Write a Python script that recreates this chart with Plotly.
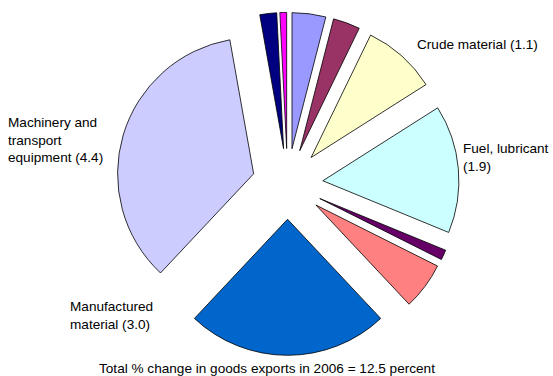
import plotly.graph_objects as go

W, H = 553, 376

categories = ["Other A", "Other B", "Crude material", "Fuel, lubricant", "Other C",
              "Other D", "Manufactured material", "Machinery and transport equipment",
              "Other E", "Other F"]
values = [0.5, 0.4, 1.1, 1.9, 0.15, 0.7, 3.0, 4.4, 0.25, 0.1]
colors = ["#9999FF", "#993366", "#FFFFCC", "#CCFFFF", "#660066",
          "#FF8080", "#0066CC", "#CCCCFF", "#000080", "#FF00FF"]

label_texts = ["Crude material (1.1)", "Fuel, lubricant<br>(1.9)",
               "Machinery and<br>transport<br>equipment (4.4)",
               "Manufactured<br>material (3.0)"]
label_pos = [(415, 44), (461, 157), (6, 140), (68, 315)]
footer = "Total % change in goods exports in 2006 = 12.5 percent"

fig = go.Figure(go.Pie(
    labels=categories, values=values, sort=False, direction="clockwise", rotation=0,
    marker=dict(colors=colors, line=dict(color="#000000", width=0.8)),
    pull=[0.26] * len(values), textinfo="none", hoverinfo="label+value",
    showlegend=False,
    domain=dict(x=[0.1, 0.94], y=[0.055, 0.967]),
))

font = dict(family="Liberation Sans, Arial, sans-serif", size=13.6, color="#000000")
for t, (px, py) in zip(label_texts, label_pos):
    fig.add_annotation(text=t, x=px / W, y=1 - py / H, xref="paper", yref="paper",
                       xanchor="left", yanchor="middle", align="left",
                       showarrow=False, font=font)
fig.add_annotation(text=footer, x=267 / W, y=1 - 368 / H, xref="paper", yref="paper",
                   xanchor="center", yanchor="middle", showarrow=False, font=font)

fig.update_layout(width=W, height=H, margin=dict(l=0, r=0, t=0, b=0),
                  paper_bgcolor="#FFFFFF", plot_bgcolor="#FFFFFF")
fig.write_html("out.html", config={"displayModeBar": False},
               post_script="document.body.style.margin='0';document.body.style.overflow='hidden';")
